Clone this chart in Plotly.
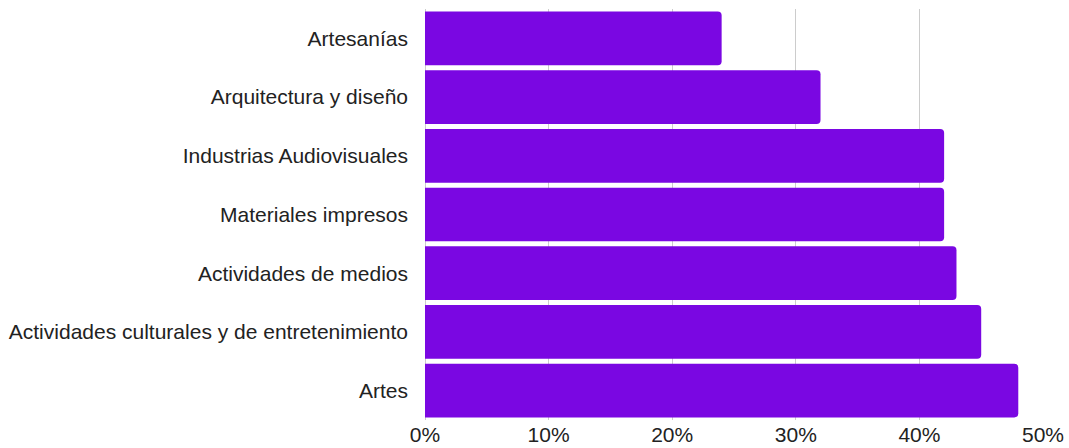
import plotly.graph_objects as go

# Sectores culturales y porcentaje asociado
categorias = [
    "Artes",
    "Actividades culturales y de entretenimiento",
    "Actividades de medios",
    "Materiales impresos",
    "Industrias Audiovisuales",
    "Arquitectura y diseño",
    "Artesanías",
]
porcentajes = [48, 45, 43, 42, 42, 32, 24]

tick_vals = [0, 10, 20, 30, 40, 50]
tick_text = ["0%", "10%", "20%", "30%", "40%", "50%"]

fig = go.Figure(
    go.Bar(
        x=porcentajes,
        y=categorias,
        orientation="h",
        marker=dict(color="#7A07E2", cornerradius=4, line=dict(width=0)),
        hoverinfo="x+y",
    )
)

fig.update_layout(
    width=1069,
    height=448,
    margin=dict(l=425, r=26, t=9, b=28),
    paper_bgcolor="white",
    plot_bgcolor="white",
    bargap=0.085,
    showlegend=False,
    font=dict(family="Arial", size=21, color="#222222"),
)

fig.update_xaxes(
    range=[0, 50],
    tickvals=tick_vals,
    ticktext=tick_text,
    showgrid=True,
    gridcolor="#cccccc",
    gridwidth=1,
    zeroline=True,
    zerolinecolor="#cccccc",
    zerolinewidth=1,
    showline=False,
    ticks="",
    tickfont=dict(size=21),
    ticklabelstandoff=0,
    automargin=False,
)

fig.update_yaxes(
    showgrid=False,
    ticks="",
    ticklabelstandoff=16,
    tickfont=dict(size=21),
    categoryorder="array",
    categoryarray=categorias,
    automargin=False,
)

fig.write_html("out.html")
